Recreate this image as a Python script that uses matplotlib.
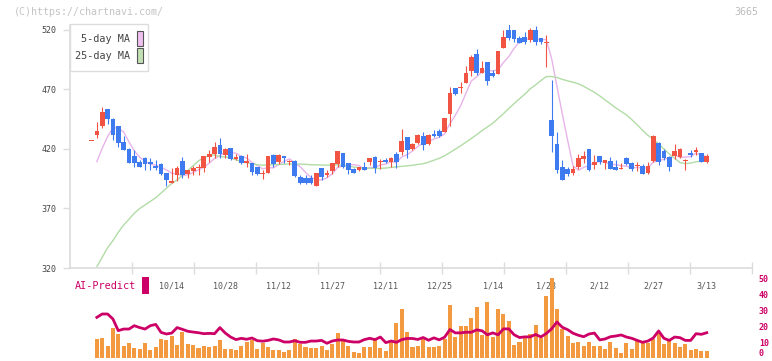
import matplotlib
matplotlib.use("Agg")
import matplotlib.pyplot as plt
import numpy as np
import pandas as pd
from matplotlib.patches import Rectangle

nan = np.nan

opens = [426.4, 431.8, 439.3, 453.6, 445.2, 439.3, 426.2, 420.0, 414.1, 409.0,
         412.2, 409.1, 406.0, 407.4, 399.5, 391.7, 398.2, 410.0, 399.0, 401.8,
         404.0, 403.8, 413.6, 415.8, 423.4, 415.0, 420.6, 411.8, 414.4, 408.6,
         408.0, 405.2, 398.8, 400.1, 415.0, 409.4, 414.1, 409.0, 410.2, 396.5,
         395.3, 395.3, 389.2, 403.8, 398.2, 401.8, 407.1, 416.4, 408.0, 403.2,
         402.4, 404.6, 409.1, 413.0, 409.4, 410.8, 409.1, 415.8, 417.2, 430.1,
         419.7, 424.8, 430.9, 424.2, 432.3, 435.1, 434.6, 449.7, 471.3, 471.3,
         475.5, 485.5, 499.8, 484.1, 493.1, 484.1, 483.3, 505.2, 520.0, 520.0,
         513.3, 514.1, 511.6, 520.0, 513.3, 509.2, 444.4, 424.2, 404.9, 403.2,
         399.8, 404.9, 411.6, 420.0, 406.6, 414.1, 408.5, 409.9, 404.9, 403.5,
         412.4, 408.2, 405.5, 405.7, 399.8, 409.9, 425.0, 418.3, 413.3, 414.1,
         413.3, 409.7, 416.6, 417.5, 416.6, 409.1]
highs = [426.4, 442.4, 455.3, 454.0, 446.3, 439.6, 431.2, 420.5, 419.2, 410.8,
         413.6, 412.7, 410.8, 408.0, 399.5, 403.8, 406.0, 413.3, 402.4, 406.0,
         407.0, 414.1, 419.2, 426.2, 429.0, 421.1, 420.6, 415.5, 415.0, 415.5,
         408.0, 405.2, 402.4, 414.1, 415.5, 415.5, 414.5, 410.8, 410.8, 398.2,
         398.2, 398.2, 399.5, 403.8, 402.4, 408.0, 418.3, 416.4, 408.0, 403.8,
         404.6, 409.4, 412.4, 414.1, 411.3, 412.4, 413.5, 417.8, 436.8, 430.1,
         424.8, 432.3, 434.0, 432.3, 436.0, 436.5, 446.1, 472.4, 471.3, 476.0,
         489.7, 499.3, 503.8, 493.9, 493.1, 486.4, 502.4, 520.0, 525.0, 520.0,
         515.0, 518.3, 521.7, 523.4, 513.3, 515.8, 478.0, 434.3, 410.8, 404.9,
         405.7, 415.8, 418.3, 420.0, 415.0, 414.1, 410.8, 413.3, 410.8, 408.2,
         413.3, 409.1, 409.1, 407.4, 409.1, 431.8, 425.9, 420.0, 414.1, 424.2,
         420.8, 411.6, 419.2, 421.7, 416.6, 415.8]
lows = [426.4, 429.0, 437.4, 440.7, 427.6, 422.0, 419.0, 408.0, 405.1, 405.0,
        402.4, 402.4, 402.4, 398.0, 389.2, 391.5, 393.1, 395.4, 395.4, 398.2,
        398.2, 401.0, 409.0, 412.2, 412.7, 412.2, 411.0, 410.8, 407.7, 405.2,
        398.2, 398.0, 394.8, 400.0, 404.5, 407.0, 408.5, 406.8, 396.2, 390.6,
        390.8, 391.0, 389.2, 394.0, 396.8, 399.0, 405.2, 403.8, 399.0, 400.1,
        401.8, 402.4, 406.3, 400.1, 403.5, 408.0, 405.2, 404.3, 415.0, 412.2,
        419.2, 424.2, 419.2, 423.4, 430.4, 430.4, 434.0, 439.6, 465.1, 467.3,
        475.5, 481.6, 482.2, 484.1, 473.8, 480.8, 483.3, 505.2, 512.0, 510.0,
        509.1, 508.2, 509.9, 507.4, 508.2, 489.2, 417.7, 400.1, 394.0, 397.3,
        398.2, 403.2, 408.5, 401.5, 403.2, 407.4, 403.2, 403.2, 402.4, 403.2,
        406.6, 401.5, 401.5, 399.0, 399.0, 409.1, 406.6, 410.8, 401.5, 411.6,
        412.4, 402.4, 413.3, 415.0, 409.1, 408.2]
closes = [426.6, 435.1, 450.8, 445.2, 431.8, 424.8, 419.2, 408.5, 407.9, 405.1,
          407.1, 407.7, 404.3, 399.0, 394.0, 393.1, 403.8, 398.2, 402.4, 404.0,
          404.3, 414.1, 415.8, 422.0, 415.5, 420.0, 411.3, 413.6, 408.5, 408.8,
          401.0, 399.0, 399.0, 414.1, 407.7, 415.0, 412.5, 409.4, 397.3, 391.5,
          391.2, 391.3, 399.5, 396.8, 400.1, 408.0, 418.3, 405.2, 402.4, 400.1,
          404.6, 402.4, 412.4, 403.8, 409.6, 408.8, 412.4, 409.1, 426.7, 419.2,
          424.2, 431.8, 423.4, 431.8, 430.9, 431.2, 446.1, 467.0, 466.2, 471.6,
          483.9, 497.3, 484.1, 488.1, 477.1, 481.6, 502.4, 514.1, 513.0, 512.4,
          509.1, 509.9, 520.0, 509.9, 509.9, 509.9, 431.2, 402.4, 394.0, 399.0,
          403.2, 412.4, 414.1, 402.4, 409.1, 409.1, 410.8, 403.2, 402.4, 404.1,
          407.4, 403.2, 405.9, 399.0, 405.7, 430.9, 409.1, 412.4, 404.9, 418.3,
          420.0, 410.1, 415.0, 419.2, 409.1, 414.1]
volume = [0,
          11.9, 12.5, 7.5, 18.75, 15, 7.5, 9.4, 6.25, 5.6, 9.4,
          5, 6.9, 11.9, 11.25, 13.75, 8.1, 16.25, 8.75, 8.1, 6.25,
          7.5, 6.9, 7.5, 11.25, 5.6, 5.6, 5, 7.5, 10,
          11.25, 5.6, 9.4, 6.9, 5, 5, 3.75, 5, 11.9, 8.75,
          6.9, 6.25, 6.25, 7.5, 5, 8.75, 15.6, 10.6, 7.5, 3.75,
          3.1, 6.9, 6.9, 11.25, 6.25, 4.4, 10, 21.9, 30.5,
          16.1, 6.6, 7.2, 11.6, 6.6, 6.6, 7.8, 11.6, 33.4, 13.4,
          20.3, 20.3, 24.7, 31.6, 14.1, 35.3, 13.4, 30.9, 27.2, 23.4,
          8.4, 10.3, 13.4, 15.3, 20.9, 12.2, 39, 49.7, 30.4,
          18.1, 13.75, 9.4, 10, 7.5, 10, 7.5, 7.5, 5.6, 10,
          6.25, 3.1, 9.4, 5.6, 10.6, 9.4, 9.4, 11.9, 16.25, 8.75,
          11.25, 9.4, 6.9, 8.75, 5, 5.6, 4.4, 4.4]
ai_predict = [nan,
              25.4, 27.5, 27.5, 24.4, 17.1, 18.1, 18.1, 20.2, 19.0, 18.1,
              20.2, 21.0, 16.0, 15.0, 15.6, 19.0, 17.9, 16.7, 16.2, 15.8,
              15.2, 15.4, 15.2, 19.0, 15.6, 13.1, 11.5, 12.3, 11.7,
              12.5, 10.8, 10.5, 11, 11.9, 11.3, 10, 10, 10.8, 9.8,
              9.8, 10.6, 10.6, 11, 9.2, 10.6, 11.25, 11.25, 10.4, 10,
              10, 11.5, 12.3, 11.5, 13.1, 9.6, 10.6, 9.8, 11.5,
              12.2, 12.2, 11.6, 12.8, 11.1, 12.6, 11.35, 13, 17.8, 15.7,
              15.7, 16.1, 16.1, 17.6, 17, 14.5, 15.7, 14.5, 18.2, 18.2,
              14.5, 12.8, 13.2, 13.2, 14.7, 13.2, 15.3, 18.2, 22.5,
              19.2, 17.7, 15.5, 14.2, 13.3, 15, 15.6, 11.3, 11.9, 13.3,
              13.75, 14.4, 13.1, 12.3, 11, 9.8, 10.6, 12.5, 16.9, 12.3,
              11, 13.1, 12.7, 11, 11, 15.2, 14.8, 15.8]
# Moving-average values that depend on days before the visible window
ma5_head = [nan, 409.4, 420.6, 430.4]
ma25_head = [nan, 321, 329, 337, 343, 350, 356, 361, 366, 370, 373, 376,
             379, 383, 387, 391, 394, 398, 402, 406, 410, 413, 414.5, 415]

date_labels = ['10/14', '10/28', '11/12', '11/27', '12/11', '12/25',
               '1/14', '1/28', '2/12', '2/27', '3/13']
date_label_idx = [15, 25, 35, 45, 55, 65, 75, 85, 95, 105, 115]
price_ticks = [320, 370, 420, 470, 520]
vol_ticks = [0, 10, 20, 30, 40, 50]

# ---- derived series ----
c = pd.Series(closes, dtype=float)
ma5 = c.rolling(5).mean().to_numpy()
ma5[:len(ma5_head)] = ma5_head
ma25 = c.rolling(25).mean().to_numpy()
ma25[:len(ma25_head)] = ma25_head

n = len(closes)
idx = np.arange(n)
o = np.array(opens); h = np.array(highs); l = np.array(lows); cl = np.array(closes)

W, H = 772, 361
fig = plt.figure(figsize=(W / 100, H / 100), dpi=100)
fig.patch.set_facecolor('white')

def fx(px):
    return px / W

def fy(py):
    return 1 - py / H

mono = 'DejaVu Sans Mono'
RED = '#f25444'
BLUE = '#3f7bf0'
MAG = '#cc0066'
ORANGE = '#f39a40'
GRID = '#dcdcdc'

xlim = (-4.02, 123.46)

# ---- main price axes ----
ax = fig.add_axes([fx(70), fy(268), fx(752) - fx(70), fy(25) - fy(268)])
ax.set_xlim(*xlim)
ax.set_ylim(320, 524.2)
for s in ['top', 'right']:
    ax.spines[s].set_visible(False)
for s in ['left', 'bottom']:
    ax.spines[s].set_color(GRID)
    ax.spines[s].set_linewidth(1.2)

up = cl >= o
colors = np.where(up, RED, BLUE)
ax.vlines(idx, l, h, colors=colors, linewidth=0.8, zorder=3)
body_bot = np.minimum(o, cl)
body_h = np.maximum(np.abs(cl - o), 0.9)
ax.bar(idx, body_h, bottom=body_bot, width=0.88, color=colors, linewidth=0, zorder=4)

ax.plot(idx, ma5, color='#e8b4ea', linewidth=1.0, zorder=2)
ax.plot(idx, ma25, color='#b2dca6', linewidth=1.0, zorder=2)

ax.set_yticks(price_ticks)
ax.set_yticklabels([str(v) for v in price_ticks], fontfamily=mono, fontsize=6, color='#444444')
ax.tick_params(axis='y', length=5, width=1, color=GRID, pad=5)

# x: tick marks at equal divisions of the axis, date labels at their candles
span = xlim[1] - xlim[0]
ax.set_xticks([xlim[0] + span * k / 11 for k in range(1, 12)], minor=True)
ax.set_xticks(date_label_idx)
ax.set_xticklabels(date_labels, fontfamily=mono, fontsize=6, color='#555555')
ax.tick_params(axis='x', which='major', length=0, pad=10)
ax.tick_params(axis='x', which='minor', length=8, width=1, color=GRID, direction='inout')

# ---- volume / AI-Predict axes ----
ax2 = fig.add_axes([fx(70), fy(358), fx(752) - fx(70), fy(278) - fy(358)])
ax2.set_xlim(*xlim)
ax2.set_ylim(0, 50)
ax2.patch.set_alpha(0)
for s in ax2.spines.values():
    s.set_visible(False)
ax2.bar(idx, volume, width=0.75, color=ORANGE, linewidth=0, zorder=2)
ax2.plot(idx, ai_predict, color=MAG, linewidth=2.0, zorder=3)
ax2.set_xticks([])
ax2.yaxis.tick_right()
ax2.set_yticks(vol_ticks)
ax2.set_yticklabels([str(v) for v in vol_ticks], fontfamily=mono, fontsize=6,
                    color=MAG, fontweight='bold')
ax2.tick_params(axis='y', length=0, pad=5)
ax2.get_yticklabels()[0].set_va('bottom')

# ---- annotations ----
fig.text(fx(14), fy(12), '(C)https://chartnavi.com/', fontfamily=mono, fontsize=7.2,
         color='#c4c4c4', va='center', ha='left')
fig.text(fx(758), fy(12), '3665', fontfamily=mono, fontsize=7.2,
         color='#bdbdbd', va='center', ha='right')

# legend box
fig.patches.append(Rectangle((fx(70), fy(71)), fx(148) - fx(70), fy(24) - fy(71),
                             transform=fig.transFigure, facecolor='white',
                             edgecolor='#dddddd', linewidth=1, zorder=5))
fig.text(fx(130), fy(39.5), '5-day MA', fontfamily=mono, fontsize=7.3, color='#444444',
         va='center', ha='right', zorder=6)
fig.text(fx(130), fy(56), '25-day MA', fontfamily=mono, fontsize=7.3, color='#444444',
         va='center', ha='right', zorder=6)
fig.patches.append(Rectangle((fx(136.5), fy(46)), fx(142.5) - fx(136.5), fy(31) - fy(46),
                             transform=fig.transFigure, facecolor='#f0c0f0',
                             edgecolor='#555555', linewidth=0.8, zorder=6))
fig.patches.append(Rectangle((fx(136.5), fy(63)), fx(142.5) - fx(136.5), fy(48) - fy(63),
                             transform=fig.transFigure, facecolor='#c2e0b4',
                             edgecolor='#555555', linewidth=0.8, zorder=6))

# AI-Predict label
fig.text(fx(75), fy(286), 'AI-Predict', fontfamily=mono, fontsize=7.3, color=MAG,
         va='center', ha='left')
fig.patches.append(Rectangle((fx(142), fy(294)), fx(149) - fx(142), fy(277) - fy(294),
                             transform=fig.transFigure, facecolor=MAG,
                             edgecolor='none', zorder=6))

fig.savefig('out.png', dpi=100, facecolor='white')
